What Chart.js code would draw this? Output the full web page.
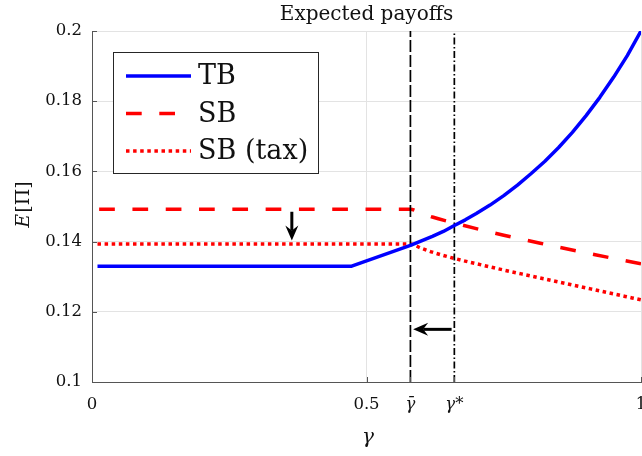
<!DOCTYPE html>
<html>
<head>
<meta charset="utf-8">
<script src="https://cdn.jsdelivr.net/npm/chart.js@4.4.0/dist/chart.umd.min.js"></script>
<style>
  html, body { margin: 0; padding: 0; background: #fff; }
</style>
</head>
<body>
<canvas id="visu" width="642" height="456"></canvas>
<script>
// seuils
const gammaBar = 0.58;
const gammaStar = 0.66;

// axes
const xTicks = [0, 0.5, gammaBar, gammaStar, 1];
const xTickLabels = ['0', '0.5', 'γ\u0304', 'γ*', '1'];
const yTicks = [0.1, 0.12, 0.14, 0.16, 0.18, 0.2];
const yTickLabels = ['0.1', '0.12', '0.14', '0.16', '0.18', '0.2'];

// courbes
const tbX = [0.01, 0.473, 0.58, 0.60, 0.62, 0.64, 0.66, 0.68, 0.70, 0.725, 0.75, 0.775, 0.80, 0.825, 0.85, 0.875, 0.90, 0.925, 0.95, 0.975, 1.0];
const tbY = [0.133, 0.133, 0.1389, 0.1402, 0.1415, 0.1429, 0.1446, 0.1462, 0.1480, 0.1504, 0.1531, 0.1561, 0.1594, 0.1629, 0.1668, 0.1711, 0.1759, 0.1811, 0.1868, 0.1930, 0.2];

const sbX = [0.013, 0.58, 0.60, 0.62, 0.66, 0.70, 0.75, 0.80, 0.85, 0.90, 0.95, 1.0];
const sbY = [0.1492, 0.1492, 0.1481, 0.1470, 0.1453, 0.1437, 0.1418, 0.1401, 0.1384, 0.1368, 0.1352, 0.1337];

const taxX = [0.01, 0.58, 0.60, 0.62, 0.66, 0.70, 0.75, 0.80, 0.85, 0.90, 0.95, 1.0];
const taxY = [0.1393, 0.1393, 0.1381, 0.1370, 0.1352, 0.1337, 0.1319, 0.1302, 0.1285, 0.1268, 0.1251, 0.1234];

// flèches : [x, y départ, y arrivée] et [y, x départ, x arrivée]
const downArrow = [0.364, 0.1485, 0.1403];
const leftArrow = [0.115, 0.655, 0.585];

const serif = '"DejaVu Serif", serif';

function pts(xs, ys) {
    return xs.map((v, i) => ({ x: v, y: ys[i] }));
}

function drawArrow(ctx, x0, y0, x1, y1) {
    const ang = Math.atan2(y1 - y0, x1 - x0);
    const len = Math.hypot(x1 - x0, y1 - y0);
    const hl = 15, hw = 6.5, notch = 5;
    ctx.save();
    ctx.translate(x1, y1);
    ctx.rotate(ang);
    ctx.strokeStyle = '#000';
    ctx.fillStyle = '#000';
    ctx.lineWidth = 3;
    ctx.beginPath();
    ctx.moveTo(-len, 0);
    ctx.lineTo(-hl + notch, 0);
    ctx.stroke();
    ctx.beginPath();
    ctx.moveTo(0, 0);
    ctx.lineTo(-hl, -hw);
    ctx.lineTo(-hl + notch, 0);
    ctx.lineTo(-hl, hw);
    ctx.closePath();
    ctx.fill();
    ctx.restore();
}

const decor = {
    id: 'decor',
    afterDatasetsDraw(chart) {
        const { ctx, chartArea: a, scales: { x, y } } = chart;
        ctx.save();
        // petites graduations vers l'intérieur
        ctx.strokeStyle = '#555';
        ctx.lineWidth = 1;
        yTicks.forEach(v => {
            const py = Math.round(y.getPixelForValue(v)) + 0.5;
            ctx.beginPath();
            ctx.moveTo(a.left, py);
            ctx.lineTo(a.left + 5, py);
            ctx.stroke();
        });
        xTicks.forEach(v => {
            const px = Math.round(x.getPixelForValue(v)) + 0.5;
            ctx.beginPath();
            ctx.moveTo(px, a.bottom);
            ctx.lineTo(px, a.bottom - 5);
            ctx.stroke();
        });
        // flèches
        drawArrow(ctx, x.getPixelForValue(downArrow[0]), y.getPixelForValue(downArrow[1]),
            x.getPixelForValue(downArrow[0]), y.getPixelForValue(downArrow[2]));
        drawArrow(ctx, x.getPixelForValue(leftArrow[1]), y.getPixelForValue(leftArrow[0]),
            x.getPixelForValue(leftArrow[2]), y.getPixelForValue(leftArrow[0]));
        ctx.restore();
    },
    afterDraw(chart) {
        const { ctx, chartArea: a } = chart;
        ctx.save();
        ctx.fillStyle = '#111';

        // titre
        ctx.font = '20px ' + serif;
        ctx.textAlign = 'center';
        ctx.textBaseline = 'alphabetic';
        ctx.fillText('Expected payoffs', (a.left + a.right) / 2, 20);

        // titre axe x
        ctx.font = 'italic 20px ' + serif;
        ctx.fillText('γ', 368, 443);

        // titre axe y : E[Π]
        ctx.translate(29, 205);
        ctx.rotate(-Math.PI / 2);
        ctx.textAlign = 'left';
        ctx.font = 'italic 19px ' + serif;
        const wE = ctx.measureText('E').width;
        ctx.font = '19px ' + serif;
        const wR = ctx.measureText('[Π]').width;
        const x0 = -(wE + wR) / 2;
        ctx.font = 'italic 19px ' + serif;
        ctx.fillText('E', x0, 0);
        ctx.font = '19px ' + serif;
        ctx.fillText('[Π]', x0 + wE + 1, 0);
        ctx.restore();

        // légende
        ctx.save();
        const lx = 113, ly = 52, lw = 205, lh = 121;
        ctx.fillStyle = '#fff';
        ctx.fillRect(lx, ly, lw, lh);
        ctx.strokeStyle = '#262626';
        ctx.lineWidth = 1;
        ctx.strokeRect(lx + 0.5, ly + 0.5, lw, lh);
        const rows = [0, 3, 4];
        rows.forEach((di, k) => {
            const ds = chart.data.datasets[di];
            const ry = 76 + k * 37.5;
            ctx.strokeStyle = ds.borderColor;
            ctx.lineWidth = ds.borderWidth;
            ctx.setLineDash(ds.borderDash || []);
            ctx.beginPath();
            ctx.moveTo(126, ry);
            ctx.lineTo(191, ry);
            ctx.stroke();
            ctx.setLineDash([]);
            ctx.fillStyle = '#111';
            ctx.font = '27px ' + serif;
            ctx.textAlign = 'left';
            ctx.textBaseline = 'alphabetic';
            ctx.fillText(ds.label, 198, ry + 8);
        });
        ctx.restore();
    }
};

const data = {
    datasets: [
        {
            label: 'TB',
            data: pts(tbX, tbY),
            borderColor: '#0000ff',
            borderWidth: 3.5,
            pointRadius: 0,
            tension: 0,
            borderJoinStyle: 'round',
            order: 0
        },
        {
            label: 'gammaBar',
            data: pts([gammaBar, gammaBar], [0.1, 0.2]),
            borderColor: '#000',
            borderWidth: 1.7,
            borderDash: [12, 3],
            pointRadius: 0,
            order: 1
        },
        {
            label: 'gammaStar',
            data: pts([gammaStar, gammaStar], [0.1, 0.2]),
            borderColor: '#000',
            borderWidth: 1.7,
            borderDash: [7, 2.5, 1.5, 2.5],
            pointRadius: 0,
            order: 1
        },
        {
            label: 'SB',
            data: pts(sbX, sbY),
            borderColor: '#ff0000',
            borderWidth: 3.5,
            borderDash: [15.7, 17.6],
            pointRadius: 0,
            cubicInterpolationMode: 'monotone',
            order: 2
        },
        {
            label: 'SB (tax)',
            data: pts(taxX, taxY),
            borderColor: '#ff0000',
            borderWidth: 3.5,
            borderDash: [3.5, 3.6],
            pointRadius: 0,
            cubicInterpolationMode: 'monotone',
            order: 3
        }
    ]
};

const config = {
    type: 'line',
    data: data,
    options: {
        responsive: false,
        animation: false,
        layout: { padding: { top: 31, right: 1, left: 0, bottom: 0 } },
        plugins: {
            legend: { display: false },
            title: { display: false },
            tooltip: { enabled: false }
        },
        scales: {
            x: {
                type: 'linear',
                min: 0,
                max: 1,
                afterBuildTicks: scale => { scale.ticks = xTicks.map(v => ({ value: v })); },
                afterFit: scale => { scale.height = 74; scale.paddingLeft = 0; scale.paddingRight = 0; },
                ticks: {
                    autoSkip: false,
                    maxRotation: 0,
                    padding: 13,
                    color: '#111',
                    font: c => ({ family: serif, size: 16.5, style: (c.index === 2 || c.index === 3) ? 'italic' : 'normal' }),
                    callback: (v, i) => xTickLabels[i]
                },
                grid: {
                    drawTicks: false,
                    color: c => (c.tick && [0, 0.5, 1].includes(c.tick.value)) ? '#e3e3e3' : 'rgba(0,0,0,0)'
                },
                border: { color: '#555', width: 1 }
            },
            y: {
                min: 0.1,
                max: 0.2,
                afterBuildTicks: scale => { scale.ticks = yTicks.map(v => ({ value: v })); },
                afterFit: scale => { scale.width = 92; scale.paddingTop = 0; scale.paddingBottom = 0; },
                ticks: {
                    padding: 10,
                    color: '#111',
                    font: { family: serif, size: 16.5 },
                    callback: (v, i) => yTickLabels[i]
                },
                grid: { drawTicks: false, color: '#e3e3e3' },
                border: { color: '#555', width: 1 }
            }
        }
    },
    plugins: [decor]
};

const canvas = document.getElementById('visu');
new Chart(canvas.getContext('2d'), config);
</script>
</body>
</html>
